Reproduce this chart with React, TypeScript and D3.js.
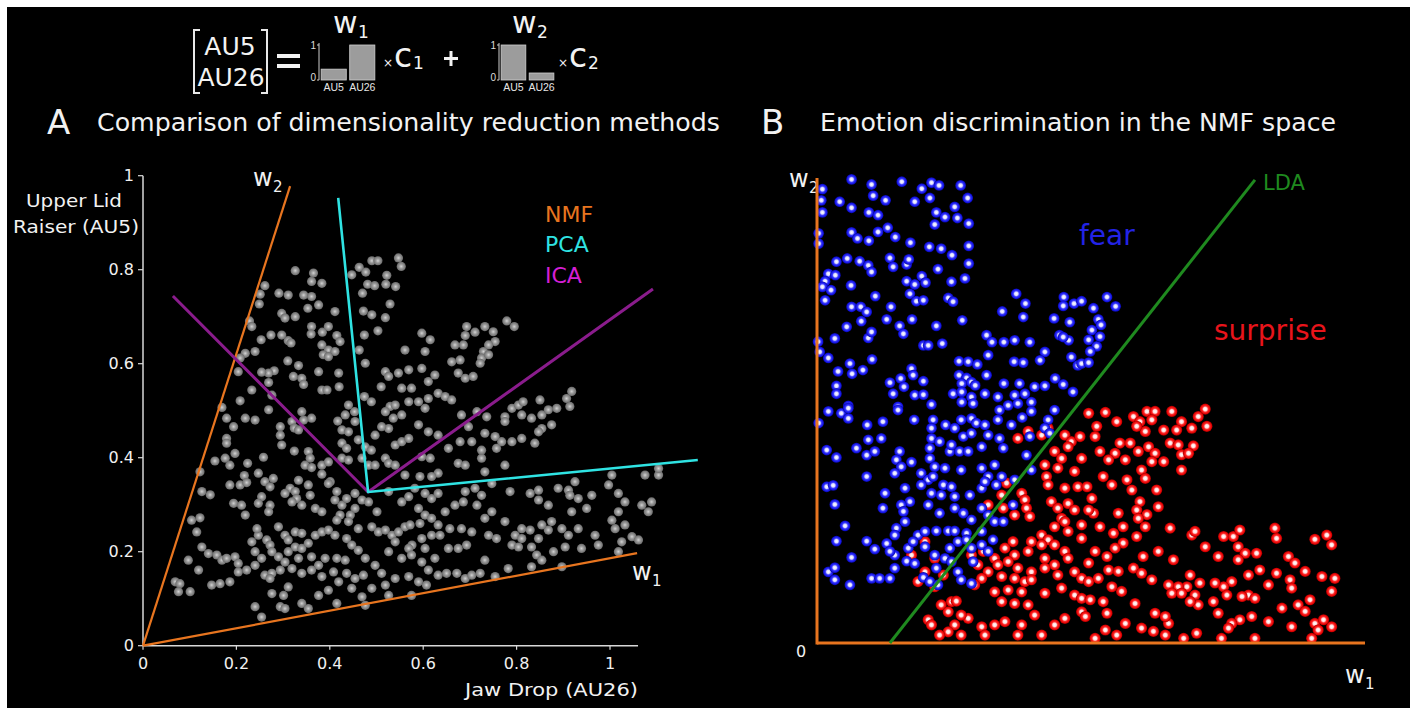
import React from "react";
import * as d3 from "d3";

// ---------- Data ----------
const tickValues = [0, 0.2, 0.4, 0.6, 0.8, 1];
const tickLabels = ["0", "0.2", "0.4", "0.6", "0.8", "1"];
const auLabels = ["AU5", "AU26"];
const w1Weights = [0.31, 1];
const w2Weights = [1, 0.2];

// Panel A lines (data units)
const origin: [number, number] = [0, 0];
const nmfW1End: [number, number] = [1.058, 0.197];
const nmfW2End: [number, number] = [0.315, 0.978];
const pcaCenter: [number, number] = [0.482, 0.327];
const pcaEnds: [number, number][] = [[0.418, 0.953], [1.188, 0.395]];
const icaEnds: [number, number][] = [[0.064, 0.744], [1.092, 0.759]];
// Panel B LDA line (normalised NMF units)
const ldaLine: [number, number][] = [[0.135, 0], [0.811, 0.996]];

const grayPts: [number, number][] = [
[.490,.819],[.503,.819],[.547,.825],[.553,.807],[.326,.798],[.365,.793],[.463,.805],[.477,.795],[.447,.789],[.522,.788],[.361,.775],[.383,.771],[.481,.769],[.496,.766],[.520,.769],[.541,.764],[.261,.766],[.291,.750],[.311,.746],[.344,.746],[.361,.743],[.251,.748],[.249,.727],[.376,.725],[.353,.718],[.411,.711],[.470,.750],[.529,.727],[.472,.712],[.490,.704],[.519,.698],[.297,.707],[.304,.697],[.326,.700],[.228,.691],[.233,.679],
[.361,.679],[.397,.679],[.360,.663],[.384,.667],[.415,.660],[.422,.647],[.274,.661],[.297,.661],[.311,.649],[.317,.644],[.253,.651],[.240,.626],[.219,.622],[.208,.612],[.383,.640],[.397,.629],[.386,.619],[.411,.626],[.397,.615],[.463,.629],[.474,.661],[.503,.670],[.561,.629],[.310,.606],[.333,.596],[.376,.583],[.419,.580],[.281,.585],[.269,.580],[.254,.582],[.204,.583],[.322,.573],[.340,.569],[.476,.601],[.519,.583],[.526,.573],[.547,.580],[.569,.587],
[.344,.556],[.269,.560],[.383,.544],[.394,.544],[.420,.551],[.474,.530],[.489,.519],[.510,.551],[.529,.509],[.554,.548],[.540,.512],[.569,.519],[.233,.544],[.276,.533],[.208,.521],[.169,.507],[.269,.502],[.340,.498],[.361,.484],[.344,.480],[.440,.512],[.433,.491],[.453,.498],[.454,.477],[.417,.478],[.426,.459],[.440,.455],[.519,.498],[.536,.484],[.554,.491],[.526,.462],[.511,.466],[.497,.448],[.540,.427],[.554,.434],[.569,.441],[.179,.484],[.219,.484],[.240,.480],[.194,.466],[.294,.466],[.294,.448],[.319,.477],[.324,.463],[.333,.459],[.179,.441],[.179,.431],[.297,.427],[.324,.414],[.354,.413],[.358,.399],[.426,.431],[.436,.420],[.461,.438],[.476,.423],[.489,.416],[.519,.399],
[.154,.393],[.176,.399],[.186,.384],[.197,.409],[.224,.388],[.258,.401],[.347,.384],[.361,.379],[.383,.384],[.397,.391],[.383,.365],[.401,.349],[.426,.399],[.440,.395],[.469,.399],[.483,.384],[.497,.384],[.526,.388],[.540,.384],[.561,.363],[.122,.370],[.217,.362],[.208,.342],[.222,.347],[.186,.342],[.247,.367],[.261,.349],[.279,.356],[.272,.338],[.254,.317],[.247,.303],[.272,.299],[.269,.285],[.333,.352],[.315,.335],[.326,.328],[.329,.313],[.304,.324],[.319,.306],[.340,.299],[.354,.342],[.358,.320],[.369,.292],[.383,.285],[.397,.345],[.415,.328],[.411,.310],[.426,.299],[.436,.313],[.454,.324],[.469,.310],[.454,.292],[.444,.278],[.422,.278],[.415,.267],[.440,.264],[.483,.306],[.501,.285],[.526,.328],[.554,.306],[.569,.317],[.126,.328],[.144,.321],[.194,.303],[.211,.299],[.219,.278],
[.104,.267],[.122,.272],[.115,.242],[.126,.210],[.140,.196],[.097,.182],[.158,.193],[.169,.182],[.179,.186],[.197,.189],[.204,.175],[.233,.221],[.247,.235],[.265,.225],[.272,.214],[.244,.249],[.290,.253],[.304,.235],[.311,.225],[.326,.242],[.340,.239],[.326,.210],[.340,.207],[.354,.218],[.369,.235],[.383,.242],[.397,.246],[.411,.235],[.436,.228],[.447,.214],[.461,.203],[.476,.186],[.461,.249],[.490,.253],[.504,.242],[.519,.246],[.533,.235],[.547,.242],[.561,.253],[.576,.214],[.540,.221],[.526,.200],[.554,.186],[.276,.200],[.290,.189],[.240,.200],[.254,.186],[.311,.200],[.304,.178],[.333,.186],[.361,.189],[.376,.171],[.390,.186],[.415,.186],[.433,.182],[.497,.171],[.569,.207],
[.069,.136],[.079,.132],[.076,.115],[.101,.115],[.119,.161],[.147,.129],[.165,.132],[.186,.136],[.204,.157],[.222,.161],[.240,.171],[.261,.150],[.276,.154],[.272,.143],[.294,.161],[.319,.164],[.340,.154],[.361,.161],[.383,.147],[.408,.157],[.436,.154],[.454,.143],[.472,.150],[.511,.154],[.540,.143],[.569,.147],[.419,.136],[.397,.118],[.376,.107],[.311,.125],[.301,.107],[.276,.111],[.294,.083],[.304,.079],[.240,.083],[.254,.061],[.340,.090],[.354,.079],[.415,.090],[.447,.122],[.469,.104],[.490,.122],[.519,.129],[.526,.107],[.476,.086],
[.779,.691],[.795,.679],[.693,.679],[.732,.679],[.597,.665],[.615,.651],[.711,.667],[.750,.668],[.690,.660],[.754,.647],[.686,.640],[.740,.640],[.668,.640],[.729,.626],[.661,.604],[.679,.608],[.725,.612],[.740,.619],[.722,.601],[.675,.580],[.690,.569],[.707,.573],[.604,.626],[.597,.590],[.625,.576],[.611,.562],[.575,.548],[.590,.519],[.611,.526],[.632,.537],[.647,.530],[.661,.523],[.604,.505],[.590,.470],[.611,.455],[.632,.448],[.682,.491],[.715,.498],[.736,.487],[.775,.487],[.790,.505],[.804,.512],[.814,.519],[.775,.477],[.811,.491],[.832,.484],[.854,.491],[.868,.502],[.886,.505],[.850,.523],[.854,.462],[.875,.470],[.847,.455],[.907,.526],[.918,.541],[.914,.509],[.697,.466],[.679,.434],[.704,.434],[.732,.452],[.754,.445],[.768,.434],[.790,.434],[.811,.441],[.839,.431],[.654,.420],[.675,.388],[.690,.384],[.725,.399],[.732,.370],[.747,.345],[.775,.384],[.725,.416],[.757,.420],[.597,.402],[.615,.399],[.632,.367],[.618,.360],[.593,.360],[.582,.335],[.604,.324],[.618,.313],[.632,.324],[.590,.292],[.604,.278],[.572,.257],[.593,.260],[.618,.271],[.632,.257],[.647,.285],[.668,.299],[.690,.328],[.711,.335],[.686,.306],[.715,.299],[.725,.320],[.747,.285],[.775,.264],[.740,.235],[.757,.228],[.732,.271],[.786,.328],[.829,.324],[.847,.310],[.847,.331],[.868,.299],[.889,.335],[.911,.331],[.925,.349],[.914,.320],[.932,.313],[.950,.292],[.961,.320],[.918,.285],[.897,.249],[.911,.235],[.932,.249],[.875,.264],[.868,.246],[.847,.228],[.854,.257],[.829,.246],[.811,.249],[.797,.235],[.790,.214],[.804,.210],[.811,.228],[.832,.210],[.843,.193],[.854,.182],[.879,.200],[.904,.210],[.939,.207],[.975,.214],[.968,.235],[.997,.342],[1.004,.363],[1.018,.324],[1.032,.306],[1.018,.285],[1.004,.267],[1.011,.249],[1.032,.257],[1.047,.232],[1.061,.225],[1.025,.221],[1.018,.200],[1.075,.363],[1.104,.363],[1.104,.377],[1.068,.299],[1.089,.306],[1.082,.285],[.597,.228],[.618,.235],[.636,.235],[.657,.249],[.682,.249],[.704,.242],[.654,.207],[.675,.207],[.693,.214],[.604,.207],[.575,.193],[.625,.186],[.597,.178],[.611,.161],[.590,.136],[.607,.129],[.632,.150],[.650,.154],[.672,.154],[.690,.143],[.704,.150],[.722,.154],[.732,.182],[.754,.147],[.782,.164],[.832,.168],[.897,.168],[.575,.107]
];

const fearPts: [number, number][] = [
[.064,.997],[.101,.986],[.157,.992],[.212,.990],[.226,.984],[.266,.984],[.010,.976],[.194,.977],[.008,.952],[.042,.949],[.104,.962],[.127,.952],[.181,.949],[.209,.957],[.279,.957],[.064,.936],[.010,.926],[.096,.926],[.113,.920],[.221,.926],[.237,.916],[.255,.938],[.260,.914],[.218,.900],[.281,.902],[.003,.881],[.003,.859],[.064,.883],[.075,.870],[.096,.865],[.113,.884],[.131,.893],[.145,.873],[.173,.861],[.208,.852],[.230,.848],[.250,.834],[.281,.854],[.281,.816],[.036,.820],[.056,.827],[.079,.821],[.095,.812],[.101,.798],[.135,.828],[.141,.809],[.166,.814],[.170,.825],[.224,.804],[.021,.794],[.015,.778],[.034,.791],[.010,.766],[.026,.759],[.166,.778],[.181,.771],[.194,.789],[.201,.775],[.172,.751],[.184,.735],[.197,.737],[.249,.777],[.274,.784],[.015,.737],[.063,.769],[.108,.746],[.243,.742],[.252,.734],[.064,.723],[.081,.723],[.092,.712],[.082,.692],[.137,.723],[.129,.696],[.176,.696],[.153,.682],[.160,.665],[.221,.682],[.269,.694],[.055,.680],[.033,.655],[.095,.656],[.101,.669],[.197,.640],[.206,.640],[.232,.644],[.002,.648],[.005,.626],[.021,.613],[.061,.601],[.039,.584],[.065,.579],[.085,.587],[.102,.610],[.036,.553],[.036,.536],[.135,.560],[.155,.569],[.175,.590],[.178,.576],[.197,.563],[.141,.536],[.161,.551],[.181,.533],[.197,.534],[.212,.513],[.058,.510],[.150,.508],
[.369,.751],[.386,.730],[.343,.713],[.382,.701],[.439,.698],[.457,.744],[.476,.730],[.456,.725],[.468,.690],[.490,.735],[.314,.662],[.324,.647],[.346,.647],[.366,.651],[.394,.647],[.422,.626],[.413,.608],[.449,.662],[.466,.651],[.456,.658],[.317,.619],[.263,.606],[.280,.605],[.297,.599],[.314,.576],[.365,.605],[.382,.603],[.471,.615],[.483,.597],[.490,.601],[.263,.576],[.277,.570],[.268,.558],[.286,.561],[.293,.554],[.346,.558],[.375,.558],[.403,.551],[.422,.553],[.441,.569],[.456,.556],[.252,.536],[.268,.540],[.286,.529],[.311,.536],[.335,.529],[.366,.533],[.385,.536],[.397,.518],[.474,.540],[.268,.518],[.289,.515],[.354,.511],[.372,.515],
[.512,.720],[.537,.744],[.553,.724],[.521,.696],[.526,.684],[.509,.673],[.503,.652],[.518,.638],[.524,.659],[.506,.627],[.503,.603],
[.021,.498],[.045,.494],[.058,.505],[.058,.483],[.003,.473],[.093,.469],[.122,.476],[.150,.501],[.180,.480],[.215,.480],[.238,.469],[.212,.462],[.267,.480],[.286,.483],[.295,.473],[.255,.462],[.271,.444],[.286,.451],[.311,.469],[.317,.447],[.338,.501],[.335,.480],[.360,.469],[.380,.485],[.397,.498],[.428,.480],[.422,.462],[.440,.501],[.431,.451],[.394,.444],[.095,.437],[.119,.440],[.073,.419],[.092,.404],[.107,.412],[.018,.415],[.036,.399],[.153,.412],[.147,.394],[.156,.379],[.175,.389],[.144,.365],[.212,.440],[.209,.419],[.227,.433],[.246,.412],[.249,.426],[.264,.412],[.280,.412],[.305,.422],[.338,.440],[.345,.419],[.388,.404],[.397,.372],[.209,.397],[.218,.379],[.237,.376],[.193,.365],[.206,.351],[.215,.358],[.234,.340],[.267,.372],[.305,.376],[.329,.383],[.317,.358],[.342,.358],[.366,.351],[.092,.358],[.018,.336],[.030,.339],[.126,.322],[.163,.333],[.172,.304],[.156,.297],[.193,.340],[.212,.322],[.230,.318],[.249,.336],[.255,.315],[.283,.318],[.305,.333],[.311,.347],[.332,.340],[.033,.298],[.122,.290],[.206,.297],[.227,.279],[.255,.290],[.271,.279],[.286,.265],[.305,.290],[.317,.275],[.329,.261],[.345,.261],[.363,.297],[.052,.252],[.160,.283],[.163,.261],[.147,.247],[.144,.232],[.187,.232],[.200,.240],[.221,.241],[.243,.241],[.255,.241],[.277,.236],[.305,.240],[.326,.222],[.036,.219],[.092,.219],[.107,.202],[.129,.214],[.144,.189],[.135,.197],[.169,.204],[.178,.218],[.200,.207],[.218,.189],[.237,.182],[.246,.204],[.261,.218],[.286,.204],[.277,.222],[.305,.211],[.317,.197],[.064,.184],[.166,.176],[.181,.171],[.221,.161],[.249,.175],[.261,.153],[.289,.175],[.021,.153],[.033,.162],[.033,.136],[.061,.125],[.101,.139],[.116,.139],[.135,.139],[.144,.161],[.197,.141],[.209,.132],[.224,.125],[.267,.136],[.286,.128]
];

const surprisePts: [number, number][] = [
[.391,.455],[.372,.440],[.416,.447],[.428,.462],[.459,.447],[.471,.433],[.487,.444],[.440,.412],[.465,.422],[.453,.397],[.490,.397],[.422,.383],[.446,.376],[.425,.358],[.477,.369],[.459,.333],[.483,.336],[.428,.340],[.351,.344],[.379,.322],[.342,.318],[.317,.297],[.345,.290],[.385,.308],[.388,.290],[.394,.272],[.366,.275],[.434,.304],[.446,.290],[.465,.300],[.477,.286],[.453,.268],[.440,.250],[.459,.261],[.465,.240],[.490,.254],[.416,.232],[.428,.222],[.397,.218],[.363,.218],[.348,.204],[.366,.189],[.391,.197],[.416,.211],[.440,.211],[.459,.197],[.465,.182],[.422,.182],[.440,.168],[.490,.225],[.329,.182],[.335,.168],[.308,.197],[.286,.189],[.298,.168],[.354,.175],[.372,.161],[.397,.153],[.422,.161],[.446,.146],[.477,.153],[.490,.139],[.385,.132],[.397,.136],[.366,.139],[.342,.143],[.317,.153],[.305,.139],[.292,.125],[.329,.110],[.354,.114],[.379,.110],[.422,.107],[.453,.118],[.342,.089],[.366,.085],[.391,.082],[.403,.060],[.477,.103],[.490,.096],[.490,.067],[.459,.053],[.440,.039],[.416,.017],[.372,.017],[.379,.039],[.348,.046],[.329,.039],[.305,.035],[.311,.017],[.280,.053],[.267,.060],[.255,.039],[.267,.017],[.243,.024],[.227,.017],[.206,.050],[.212,.039],[.230,.082],[.249,.089],[.243,.067],[.258,.090],[.200,.218],[.218,.182],[.200,.153],[.234,.146],[.218,.121],[.187,.132],[.175,.189],
[.503,.494],[.534,.496],[.555,.476],[.518,.466],[.586,.487],[.598,.476],[.611,.498],[.626,.498],[.620,.480],[.608,.455],[.592,.466],[.642,.458],[.657,.498],[.675,.476],[.666,.458],[.694,.462],[.706,.487],[.719,.503],[.722,.466],[.515,.444],[.524,.412],[.552,.408],[.540,.394],[.561,.430],[.580,.430],[.571,.394],[.595,.412],[.614,.422],[.626,.408],[.620,.390],[.642,.390],[.654,.430],[.669,.426],[.675,.405],[.697,.424],[.688,.408],[.675,.372],[.601,.372],[.608,.354],[.574,.351],[.530,.358],[.546,.340],[.509,.311],[.500,.336],[.583,.329],[.629,.329],[.598,.304],[.632,.293],[.592,.286],[.611,.276],[.595,.268],[.558,.279],[.567,.250],[.549,.236],[.524,.250],[.512,.279],[.503,.286],[.608,.250],[.592,.229],[.632,.197],[.604,.186],[.567,.215],[.552,.204],[.537,.186],[.515,.197],[.503,.172],[.540,.157],[.558,.154],[.586,.161],[.601,.150],[.620,.136],[.654,.247],[.660,.179],[.694,.232],[.700,.240],[.719,.207],[.743,.186],[.753,.229],[.771,.229],[.783,.243],[.780,.207],[.793,.193],[.814,.193],[.780,.179],[.848,.247],[.851,.225],[.922,.223],[.944,.232],[.953,.211],[.873,.186],[.885,.172],[.904,.154],[.876,.136],[.879,.118],[.851,.150],[.836,.125],[.820,.157],[.799,.146],[.799,.103],[.811,.096],[.787,.100],[.768,.132],[.753,.121],[.737,.129],[.759,.103],[.734,.089],[.709,.129],[.691,.146],[.685,.121],[.669,.121],[.651,.125],[.657,.107],[.675,.107],[.700,.103],[.706,.082],[.691,.089],[.935,.143],[.959,.139],[.953,.111],[.913,.093],[.891,.082],[.904,.068],[.922,.042],[.938,.050],[.953,.035],[.879,.035],[.861,.075],[.836,.046],[.805,.057],[.783,.050],[.768,.042],[.762,.032],[.743,.064],[.749,.010],[.703,.021],[.679,.010],[.651,.042],[.645,.017],[.623,.025],[.601,.032],[.571,.042],[.555,.017],[.534,.028],[.537,.064],[.530,.089],[.497,.057],[.515,.010],[.589,.085],[.626,.064],[.645,.057],[.811,.010],[.916,.010],[.928,.028],[.503,.132],[.521,.139],[.546,.121],[.564,.111],[.506,.093]
];

// ---------- Component ----------
export default function App() {
  // Panel A scales
  const xA = d3.scaleLinear().domain([0, 1]).range([143, 610]);
  const yA = d3.scaleLinear().domain([0, 1]).range([645.7, 175.7]);
  // Panel B scales
  const xB = d3.scaleLinear().domain([0, 1]).range([817, 1357]);
  const yB = d3.scaleLinear().domain([0, 1]).range([643, 178]);
  // Formula mini bar charts
  const yBar = d3.scaleLinear().domain([0, 1]).range([80, 45]);
  const band1 = d3.scaleBand().domain(auLabels).range([320, 376]).paddingInner(0.12).paddingOuter(0.04);
  const band2 = d3.scaleBand().domain(auLabels).range([500, 555]).paddingInner(0.12).paddingOuter(0.04);

  const lineA = d3.line<[number, number]>().x((d) => xA(d[0])).y((d) => yA(d[1]));
  const lineB = d3.line<[number, number]>().x((d) => xB(d[0])).y((d) => yB(d[1]));

  const font = "'DejaVu Sans', Verdana, sans-serif";
  const orange = "#e8751f";
  const axisCol = "#d8d8d8";
  const smallFont = "Arial, 'Liberation Sans', sans-serif";

  const miniBars = (band: d3.ScaleBand<string>, weights: number[], axisX: number) => (
    <g>
      <line x1={axisX} x2={axisX} y1={yBar(1) - 2} y2={yBar(0)} stroke="#cfcfcf" strokeWidth={1} />
      <line x1={axisX - 2} x2={axisX} y1={yBar(1)} y2={yBar(1)} stroke="#cfcfcf" strokeWidth={1} />
      <line x1={axisX - 2} x2={axisX} y1={yBar(0)} y2={yBar(0)} stroke="#cfcfcf" strokeWidth={1} />
      <text x={axisX - 3} y={yBar(1) + 4} fill="#ddd" fontSize={10} textAnchor="end" fontFamily={smallFont}>1</text>
      <text x={axisX - 3} y={yBar(0) + 1} fill="#ddd" fontSize={10} textAnchor="end" fontFamily={smallFont}>0</text>
      {auLabels.map((l, i) => (
        <g key={l}>
          <rect x={band(l)} y={yBar(weights[i])} width={band.bandwidth()} height={yBar(0) - yBar(weights[i])}
            fill="#9c9c9c" stroke="#d0d0d0" strokeWidth={0.8} />
          <text x={(band(l) as number) + band.bandwidth() / 2} y={91} fill="#e6e6e6" fontSize={10.5}
            textAnchor="middle" fontFamily={smallFont}>{l}</text>
        </g>
      ))}
    </g>
  );

  return (
    <svg width={1416} height={708} style={{ position: "absolute", left: 0, top: 0, display: "block" }}>
      <defs>
        <radialGradient id="gGray" cx="50%" cy="50%" r="50%">
          <stop offset="0%" stopColor="#d4d4d4" />
          <stop offset="45%" stopColor="#9a9a9a" />
          <stop offset="100%" stopColor="#6a6a6a" />
        </radialGradient>
        <radialGradient id="gBlue" cx="50%" cy="50%" r="50%">
          <stop offset="0%" stopColor="#ffffff" />
          <stop offset="32%" stopColor="#dcdcff" />
          <stop offset="55%" stopColor="#3a3aff" />
          <stop offset="85%" stopColor="#1010e0" />
          <stop offset="100%" stopColor="#0a0a90" />
        </radialGradient>
        <radialGradient id="gRed" cx="50%" cy="50%" r="50%">
          <stop offset="0%" stopColor="#ffffff" />
          <stop offset="32%" stopColor="#ffdede" />
          <stop offset="55%" stopColor="#ff2a2a" />
          <stop offset="85%" stopColor="#e00000" />
          <stop offset="100%" stopColor="#900000" />
        </radialGradient>
      </defs>
      <rect x={0} y={0} width={1416} height={708} fill="#ffffff" />
      <rect x={7} y={7} width={1403} height={701} fill="#000000" />

      {/* ---------- Formula ---------- */}
      <g fontFamily={font} fill="#f2f2f2">
        <path d="M200,30 H194 V93 H200" fill="none" stroke="#e8e8e8" strokeWidth={2} />
        <path d="M261,30 H267 V93 H261" fill="none" stroke="#e8e8e8" strokeWidth={2} />
        <text x={230} y={55} fontSize={25} textAnchor="middle">AU5</text>
        <text x={231} y={86} fontSize={25} textAnchor="middle">AU26</text>
        <rect x={277} y={54} width={23} height={4} fill="#f2f2f2" />
        <rect x={277} y={64} width={23} height={4} fill="#f2f2f2" />
        {miniBars(band1, w1Weights, 319)}
        <text x={333} y={33} fontSize={30}>w</text>
        <text x={358} y={38} fontSize={17}>1</text>
        <text x={383} y={67} fontSize={12}>×</text>
        <text x={394} y={67} fontSize={33}>c</text>
        <text x={413} y={69} fontSize={17}>1</text>
        <rect x={444} y={57} width={14} height={3} fill="#f2f2f2" />
        <rect x={449.5} y={51} width={3} height={15} fill="#f2f2f2" />
        {miniBars(band2, w2Weights, 499)}
        <text x={512} y={33} fontSize={30}>w</text>
        <text x={537} y={38} fontSize={17}>2</text>
        <text x={558} y={67} fontSize={12}>×</text>
        <text x={569} y={67} fontSize={33}>c</text>
        <text x={588} y={69} fontSize={17}>2</text>
      </g>

      {/* ---------- Panel A ---------- */}
      <g fontFamily={font} fill="#f2f2f2">
        <text x={47} y={134} fontSize={34}>A</text>
        <text x={97} y={131} fontSize={24} textLength={623} lengthAdjust="spacingAndGlyphs">Comparison of dimensionality reduction methods</text>
        <text x={26} y={207} fontSize={18} textLength={96} lengthAdjust="spacingAndGlyphs">Upper Lid</text>
        <text x={13} y={233} fontSize={18} textLength={126} lengthAdjust="spacingAndGlyphs">Raiser (AU5)</text>
        <text x={465} y={696} fontSize={18} textLength={173} lengthAdjust="spacingAndGlyphs">Jaw Drop (AU26)</text>
      </g>
      {/* axes */}
      <line x1={xA(0)} x2={xA(0)} y1={yA(1)} y2={yA(0)} stroke={axisCol} strokeWidth={1.5} />
      <line x1={xA(0)} x2={xA(1.06)} y1={yA(0)} y2={yA(0)} stroke={axisCol} strokeWidth={1.5} />
      {tickValues.map((t, i) => (
        <g key={"ty" + i} fontFamily={font} fill="#f0f0f0">
          <line x1={xA(0) - 5} x2={xA(0)} y1={yA(t)} y2={yA(t)} stroke={axisCol} strokeWidth={1.2} />
          <text x={xA(0) - 9} y={yA(t) + 5} fontSize={16} textAnchor="end">{tickLabels[i]}</text>
          <line x1={xA(t)} x2={xA(t)} y1={yA(0)} y2={yA(0) + 4} stroke={axisCol} strokeWidth={1.2} />
          <text x={xA(t)} y={yA(0) + 23} fontSize={16} textAnchor="middle">{tickLabels[i]}</text>
        </g>
      ))}
      {/* points */}
      {grayPts.map((p, i) => (
        <circle key={"g" + i} cx={xA(p[0])} cy={yA(p[1])} r={4.6} fill="url(#gGray)" />
      ))}
      {/* component lines */}
      <path d={lineA([origin, nmfW2End]) as string} stroke={orange} strokeWidth={2.2} fill="none" />
      <path d={lineA([origin, nmfW1End]) as string} stroke={orange} strokeWidth={2.2} fill="none" />
      <path d={lineA([icaEnds[0], pcaCenter, icaEnds[1]]) as string} stroke="#8a1c8c" strokeWidth={3} fill="none" strokeLinejoin="round" />
      <path d={lineA([pcaEnds[0], pcaCenter, pcaEnds[1]]) as string} stroke="#2fe3e3" strokeWidth={2.6} fill="none" strokeLinejoin="round" />
      <g fontFamily={font}>
        <text x={253} y={186} fontSize={24} fill="#f2f2f2">w</text>
        <text x={273} y={192} fontSize={15} fill="#f2f2f2">2</text>
        <text x={632} y={580} fontSize={24} fill="#f2f2f2">w</text>
        <text x={652} y={586} fontSize={15} fill="#f2f2f2">1</text>
        <text x={545} y={222} fontSize={22} fill={orange}>NMF</text>
        <text x={545} y={252} fontSize={22} fill="#2fe3e3">PCA</text>
        <text x={545} y={283} fontSize={22} fill="#d41fd4">ICA</text>
      </g>

      {/* ---------- Panel B ---------- */}
      <g fontFamily={font} fill="#f2f2f2">
        <text x={761} y={134} fontSize={34}>B</text>
        <text x={820} y={131} fontSize={24} textLength={516} lengthAdjust="spacingAndGlyphs">Emotion discrimination in the NMF space</text>
        <text x={789} y={187} fontSize={24}>w</text>
        <text x={809} y={193} fontSize={15}>2</text>
        <text x={796} y={657} fontSize={16}>0</text>
        <text x={1345} y={683} fontSize={24}>w</text>
        <text x={1365} y={689} fontSize={15}>1</text>
      </g>
      {surprisePts.map((p, i) => (
        <circle key={"r" + i} cx={xB(p[0])} cy={yB(p[1])} r={5.6} fill="url(#gRed)" />
      ))}
      {fearPts.map((p, i) => (
        <circle key={"b" + i} cx={xB(p[0])} cy={yB(p[1])} r={5.4} fill="url(#gBlue)" />
      ))}
      <line x1={xB(0)} x2={xB(0)} y1={yB(0) + 1.5} y2={178} stroke={orange} strokeWidth={3} />
      <line x1={xB(0)} x2={1365} y1={yB(0)} y2={yB(0)} stroke={orange} strokeWidth={3} />
      <path d={lineB(ldaLine) as string} stroke="#1f8a1f" strokeWidth={3} fill="none" />
      <g fontFamily={font}>
        <text x={1263} y={190} fontSize={21} fill="#1f8a1f">LDA</text>
        <text x={1079} y={245} fontSize={28} fill="#2323e6">fear</text>
        <text x={1214} y={340} fontSize={28} fill="#e8141b">surprise</text>
      </g>
    </svg>
  );
}
